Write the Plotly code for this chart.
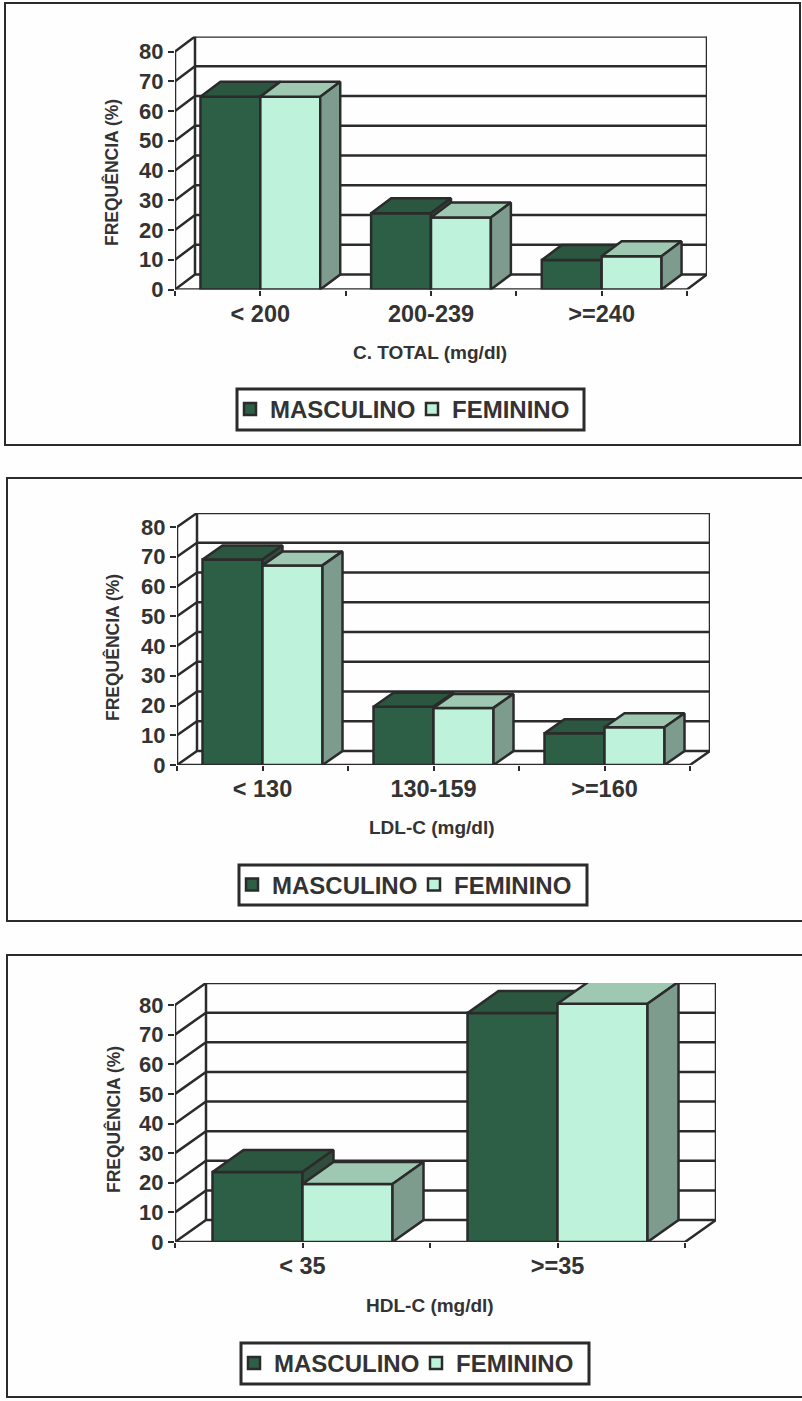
import plotly.graph_objects as go

SERIES = ["MASCULINO", "FEMININO"]
VALUE_TICKS = [0, 10, 20, 30, 40, 50, 60, 70, 80]

CATS_TOTAL = ["< 200", "200-239", ">=240"]
MASC_TOTAL = [64.8, 25.6, 9.9]
FEM_TOTAL = [64.8, 24.2, 11.2]

CATS_LDL = ["< 130", "130-159", ">=160"]
MASC_LDL = [69.1, 19.6, 10.7]
FEM_LDL = [67.1, 19.2, 12.7]

CATS_HDL = ["< 35", ">=35"]
MASC_HDL = [23.6, 77.3]
FEM_HDL = [19.6, 80.4]

W, H = 802, 1401
INK = "#2b2b2b"
TEXT = "#333333"
MASC_FRONT, MASC_TOP, MASC_SIDE = "#2c5f45", "#2b5640", "#2f4c3d"
FEM_FRONT, FEM_TOP, FEM_SIDE = "#bff2da", "#9fc8b2", "#7e9c8e"
FONT = "Liberation Sans"
LW = 2.5

PANELS = [
    dict(cats=CATS_TOTAL, m=MASC_TOTAL, f=FEM_TOTAL, xt="C. TOTAL (mg/dl)",
         left=175, right=687, y0=289.5, y80=51.5, dx=20, dy=15,
         frame=(5, 800, 3, 445), xtc=(430, 352), ytc=(112, 172),
         leg=(237, 584, 389, 430)),
    dict(cats=CATS_LDL, m=MASC_LDL, f=FEM_LDL, xt="LDL-C (mg/dl)",
         left=177, right=690, y0=765, y80=527, dx=20, dy=14,
         frame=(7, 803, 478, 921), xtc=(432, 827), ytc=(113, 648),
         leg=(239, 587, 865, 905)),
    dict(cats=CATS_HDL, m=MASC_HDL, f=FEM_HDL, xt="HDL-C (mg/dl)",
         left=175, right=685, y0=1242, y80=1005, dx=31, dy=22,
         frame=(7, 803, 955, 1397), xtc=(430, 1305), ytc=(113, 1120),
         leg=(241, 589, 1343, 1384)),
]


def fx(p):
    return p / W


def fy(p):
    return 1 - p / H


def polygons(starts, vals, w, ddx, ddy, kind):
    xs, ys = [], []
    for s, v in zip(starts, vals):
        if kind == "top":
            px = [s, s + w, s + w + ddx, s + ddx, s]
            py = [v, v, v + ddy, v + ddy, v]
        else:
            px = [s + w, s + w + ddx, s + w + ddx, s + w, s + w]
            py = [v, v + ddy, ddy, 0, v]
        xs += px + [None]
        ys += py + [None]
    return xs, ys


fig = go.Figure()
layout = {}
shapes, annotations = [], []

for i, P in enumerate(PANELS):
    n = len(P["cats"])
    a, b, c = 3 * i + 1, 3 * i + 2, 3 * i + 3
    xa, ya = f"x{a}", f"y{a}"
    leg = "legend" if i == 0 else f"legend{i + 1}"
    catpx = (P["right"] - P["left"]) / n
    ppu = (P["y0"] - P["y80"]) / 80
    ddx = P["dx"] / catpx
    ddy = P["dy"] / ppu
    xr = [0, n + ddx]
    yr = [0, 80 + ddy]
    barw = 60 / 171 if n == 3 else 90 / 255
    dom_x = [fx(P["left"]), fx(P["right"] + P["dx"])]
    dom_y = [fy(P["y0"]), fy(P["y80"] - P["dy"])]
    centers = [k + 0.5 for k in range(n)]

    # walls and floor, on the lowest subplot
    wx, wy = [], []
    for v in VALUE_TICKS:
        wx += [0, ddx, n + ddx, None]
        wy += [v, v + ddy, v + ddy, None]
    wx += [ddx, ddx, None, n + ddx, n + ddx, None, 0, 0, None, 0, n, n + ddx, None]
    wy += [ddy, 80 + ddy, None, ddy, 80 + ddy, None, 0, 80, None, 0, 0, ddy, None]
    fig.add_trace(go.Scatter(x=wx, y=wy, mode="lines", xaxis=xa, yaxis=ya, cliponaxis=False,
                             line=dict(color=INK, width=LW), showlegend=False, hoverinfo="skip"))

    for vals, name, front, top, side, k, start in [
        (P["m"], SERIES[0], MASC_FRONT, MASC_TOP, MASC_SIDE, b, [q - barw for q in centers]),
        (P["f"], SERIES[1], FEM_FRONT, FEM_TOP, FEM_SIDE, c, list(centers)),
    ]:
        fig.add_trace(go.Bar(x=centers, y=vals, width=barw,
                             offset=-barw if name == SERIES[0] else 0,
                             name=name, xaxis=f"x{k}", yaxis=f"y{k}", legend=leg, cliponaxis=False,
                             marker=dict(color=front, line=dict(color=INK, width=LW))))
        for kind, col in (("top", top), ("side", side)):
            px, py = polygons(start, vals, barw, ddx, ddy, kind)
            fig.add_trace(go.Scatter(x=px, y=py, mode="lines", fill="toself", fillcolor=col,
                                     line=dict(color=INK, width=LW), xaxis=f"x{k}", yaxis=f"y{k}",
                                     cliponaxis=False, showlegend=False, hoverinfo="skip"))
        layout[f"xaxis{k}"] = dict(domain=dom_x, range=xr, overlaying=xa, anchor=f"y{k}", visible=False)
        layout[f"yaxis{k}"] = dict(domain=dom_y, range=yr, overlaying=ya, anchor=f"x{k}", visible=False)

    tickx = [q / 2 for q in range(2 * n + 1)]
    tickt = [P["cats"][q // 2] if q % 2 else "" for q in range(2 * n + 1)]
    layout[f"xaxis{a}"] = dict(domain=dom_x, range=xr, anchor=ya, tickmode="array",
                               tickvals=tickx, ticktext=tickt, ticks="outside", ticklen=5,
                               tickwidth=2, tickcolor=INK, showgrid=False, zeroline=False,
                               showline=False, tickangle=0, ticklabelstandoff=-2,
                               tickfont=dict(family=FONT, size=23.5, color=TEXT, weight="bold"))
    layout[f"yaxis{a}"] = dict(domain=dom_y, range=yr, anchor=xa, tickmode="array",
                               tickvals=VALUE_TICKS, ticks="outside", ticklen=6, tickwidth=2,
                               tickcolor=INK, showgrid=False, zeroline=False, showline=False,
                               tickfont=dict(family=FONT, size=22, color=TEXT, weight="bold"))

    fl, fr, ft, fb = P["frame"]
    shapes.append(dict(type="rect", xref="paper", yref="paper", x0=fx(fl), x1=fx(fr),
                       y0=fy(fb), y1=fy(ft), line=dict(color=INK, width=2), layer="below"))
    annotations.append(dict(text=P["xt"], xref="paper", yref="paper", x=fx(P["xtc"][0]),
                            y=fy(P["xtc"][1]), showarrow=False, xanchor="center", yanchor="middle",
                            font=dict(family=FONT, size=19, color=TEXT, weight="bold")))
    annotations.append(dict(text="FREQUÊNCIA (%)", xref="paper", yref="paper", x=fx(P["ytc"][0]),
                            y=fy(P["ytc"][1]), showarrow=False, textangle=-90, xanchor="center",
                            yanchor="middle",
                            font=dict(family=FONT, size=17.5, color=TEXT, weight="bold")))
    ll, lr, lt, lb = P["leg"]
    shapes.append(dict(type="rect", xref="paper", yref="paper", x0=fx(ll), x1=fx(lr),
                       y0=fy(lb), y1=fy(lt), line=dict(color=INK, width=3), fillcolor="white",
                       layer="below"))
    layout[leg] = dict(orientation="h", x=fx(ll - 7), y=fy((lt + lb) / 2), xanchor="left",
                       yanchor="middle", bgcolor="rgba(0,0,0,0)", borderwidth=0, itemwidth=30,
                       entrywidth=137, entrywidthmode="pixels",
                       traceorder="normal", itemclick=False, itemdoubleclick=False,
                       font=dict(family=FONT, size=24, color=TEXT, weight="bold"))

fig.update_layout(width=W, height=H,
                  margin=dict(l=0, r=0, t=0, b=0, autoexpand=False), paper_bgcolor="#fefefe",
                  plot_bgcolor="rgba(0,0,0,0)", barmode="overlay", shapes=shapes,
                  annotations=annotations, **layout)
fig.write_html("out.html", config=dict(displayModeBar=False),
               post_script="document.body.style.margin='0';")
